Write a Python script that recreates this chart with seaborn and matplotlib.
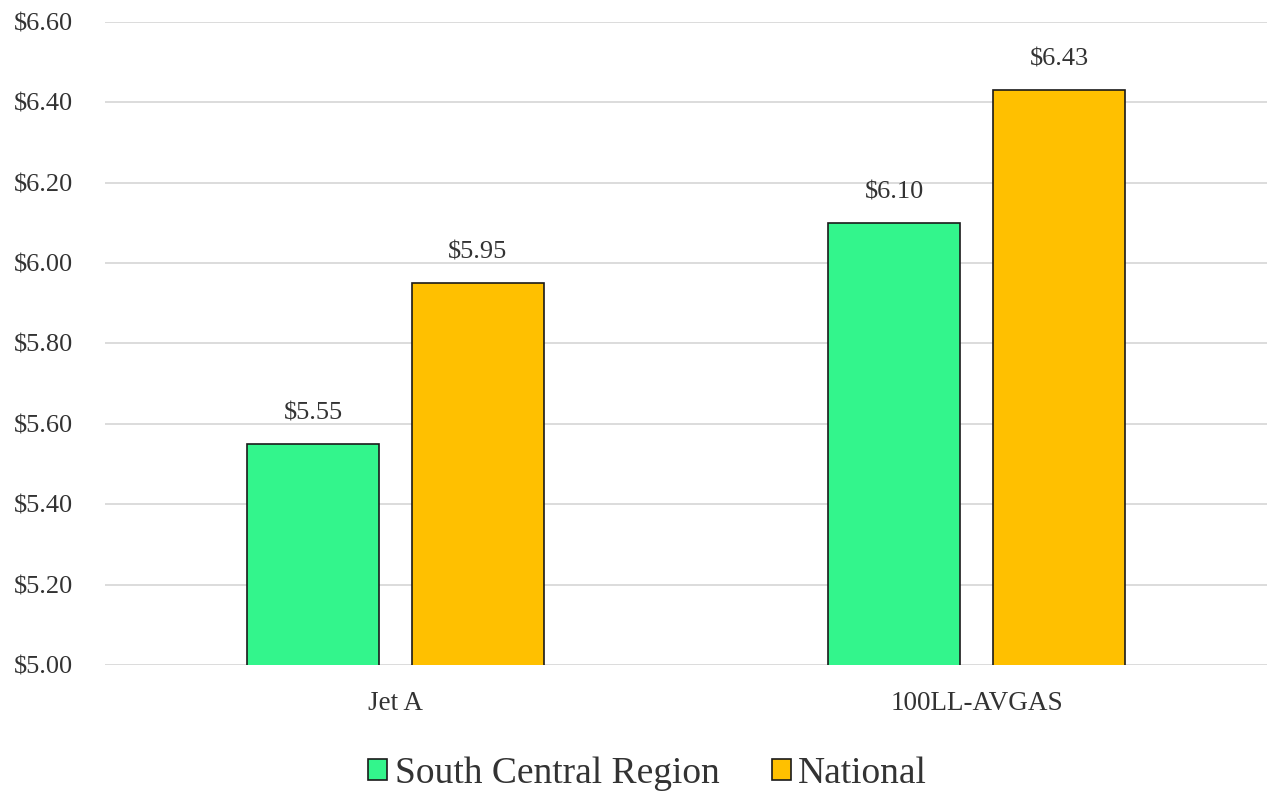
import matplotlib
matplotlib.use("Agg")
import matplotlib.pyplot as plt
import seaborn as sns
import pandas as pd

categories = ["Jet A", "100LL-AVGAS"]
series_names = ["South Central Region", "National"]
south_central = [5.55, 6.10]
national = [5.95, 6.43]
yticks = [5.00, 5.20, 5.40, 5.60, 5.80, 6.00, 6.20, 6.40, 6.60]
colors = ["#33F58C", "#FFC000"]

sns.set_theme(style="white")
plt.rcParams['font.family'] = ['Liberation Serif', 'DejaVu Serif']

df = pd.DataFrame({
    "Fuel": categories * 2,
    "Series": [series_names[0]] * 2 + [series_names[1]] * 2,
    "Price": south_central + national,
})

fig = plt.figure(figsize=(12.69, 7.93), dpi=100)
ax = fig.add_axes([0.0827, 0.1614, 0.916, 0.8109])
sns.barplot(data=df, x="Fuel", y="Price", hue="Series", palette=colors,
            saturation=1, width=0.567, gap=0.2, edgecolor="#1a1a1a", linewidth=1.2,
            ax=ax, legend=True, zorder=3)

ax.set_ylim(5.0, 6.6)
ax.set_xlim(-0.5, 1.5)
ax.set_yticks(yticks)
ax.set_yticklabels([f"${v:.2f}" for v in yticks], fontsize=19, color="#333333")
ax.tick_params(axis="x", labelsize=19.5, colors="#333333", length=0, pad=19)
ax.tick_params(axis="y", length=0, pad=23)
ax.yaxis.grid(True, color="#d9d9d9", linewidth=1.3, zorder=0)
ax.set_axisbelow(True)
for s in ax.spines.values():
    s.set_visible(False)
ax.set_xlabel("")
ax.set_ylabel("")

for cont in ax.containers:
    ax.bar_label(cont, labels=[f"${b.get_height():.2f}" for b in cont],
                 padding=14, fontsize=19, color="#333333")

handles, labels = ax.get_legend_handles_labels()
ax.legend(handles, labels, loc="center", bbox_to_anchor=(0.467, -0.169),
          ncol=2, frameon=False, fontsize=27, handlelength=0.5, handleheight=0.5,
          handletextpad=0.2, columnspacing=1.4, labelcolor="#333333")

fig.savefig("out.png", dpi=100, facecolor="white")
